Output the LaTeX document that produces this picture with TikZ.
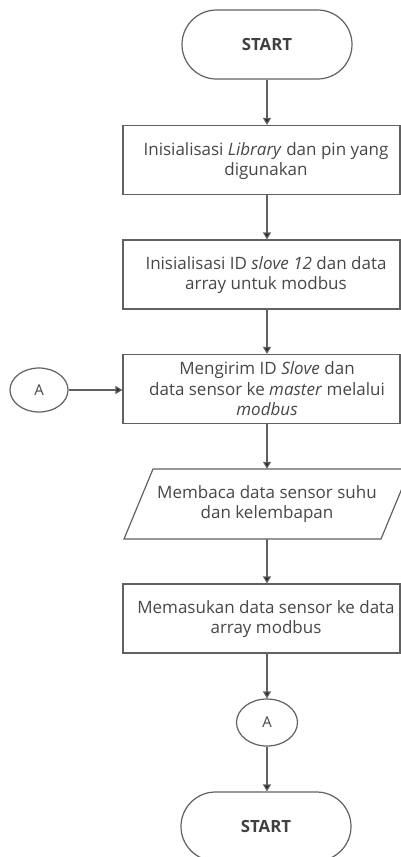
\documentclass[tikz,border=0pt]{standalone}
\usepackage{fontspec}
\setmainfont{Open Sans}
\usetikzlibrary{arrows.meta,shapes.geometric}
\begin{document}
\begin{tikzpicture}[x=1pt,y=-1pt,
  line/.style={draw=black!62, line width=1.2pt},
  box/.style={line, rectangle, minimum width=277pt, minimum height=69pt, inner sep=0pt},
  txt/.style={text=black!72, font=\fontsize{17}{20.5}\selectfont, align=center, inner sep=0pt},
  term/.style={line, rounded corners=34.5pt, minimum width=170pt, minimum height=69pt,
    inner sep=0pt, text=black!75, font=\bfseries\fontsize{16.8}{18}\selectfont},
  conn/.style={line, ellipse, inner sep=0pt, text=black!72, font=\fontsize{15}{17}\selectfont},
  arr/.style={draw=black!62, line width=1.2pt, -{Triangle[length=7pt,width=8pt,fill=black!85]}}
]
\useasboundingbox (0,0) rectangle (401,857);
\fill[white] (0,0) rectangle (401,857);

% terminals
\node[term] (t1) at (267,44.5) {START};
\node[term] (t2) at (266,826.5) {START};

% process boxes
\node[box] (b1) at (261.5,160) {};
\node[txt] (b1t) at (266,161) {Inisialisasi \textit{Library} dan pin yang\\digunakan};
\node[box] (b2) at (261.5,274.5) {};
\node[txt] (b2t) at (266,275) {Inisialisasi ID \textit{slove 12} dan data\\array untuk modbus};
\node[box] (b3) at (261.5,389) {};
\node[txt] (b3t) at (267,389) {Mengirim ID \textit{Slove} dan\\data sensor ke \textit{master} melalui\\\textit{modbus}};
\node[box] (b4) at (261.5,618.5) {};
\node[txt] (b4t) at (266,619) {Memasukan data sensor ke data\\array modbus};

% input/output parallelogram
\node[txt, minimum height=70pt] (p) at (267,504) {Membaca data sensor suhu\\dan kelembapan};
\coordinate (pbl) at (124,539);
\coordinate (ptl) at (153,469);
\coordinate (ptr) at (410,469);
\coordinate (pbr) at (381,539);
\draw[line] (pbl) -- (ptl) -- (ptr) -- (pbr) -- cycle;

% connectors
\node[conn, minimum width=58pt, minimum height=44pt] (a1) at (39,390) {A};
\node[conn, minimum width=61pt, minimum height=47pt] (a2) at (267,722.5) {A};

% flow
\draw[arr] (t1.south) -- (t1.south |- b1.north);
\draw[arr] (b1.south -| t1) -- (b2.north -| t1);
\draw[arr] (b2.south -| t1) -- (b3.north -| t1);
\draw[arr] (b3.south -| t1) -- (p.north);
\draw[arr] (p.south) -- (b4.north -| p);
\draw[arr] (b4.south -| p) -- (a2.north);
\draw[arr] (a2.south) -- (t2.north -| a2);
\draw[arr] (a1.east) -- (a1.east -| b3.west);
\end{tikzpicture}
\end{document}
